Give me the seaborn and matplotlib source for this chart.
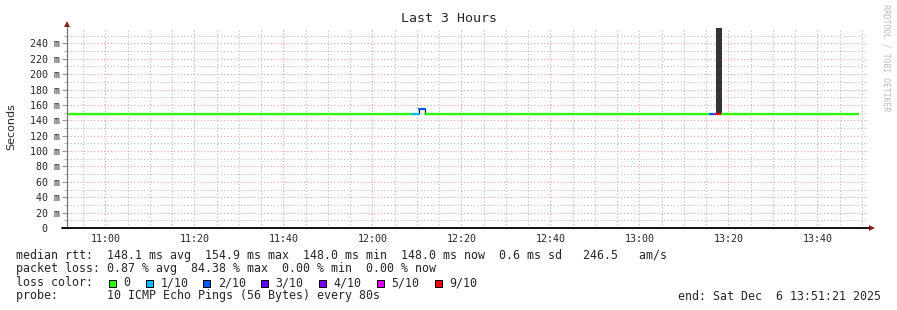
import matplotlib
matplotlib.use("Agg")
import matplotlib.pyplot as plt
import matplotlib.dates as mdates
from matplotlib.patches import Rectangle
import numpy as np
import pandas as pd
import seaborn as sns

# ---------------- data ----------------
day = "2025-12-06 "
window_start = "10:51:21"
window_end = "13:51:21"

seg_start = ["10:51:21", "12:08:59", "12:10:33", "12:11:54", "13:15:51", "13:17:10", "13:18:31"]
seg_end = ["12:08:59", "12:10:33", "12:11:54", "13:15:51", "13:17:10", "13:18:31", "13:49:06"]
seg_rtt_ms = [148.0, 148.0, 154.9, 148.0, 148.0, 148.0, 148.0]
seg_loss = ["0", "1/10", "2/10", "0", "2/10", "9/10", "0"]

smoke_start = ["13:17:10"]
smoke_end = ["13:18:31"]
smoke_low_ms = [148.0]
smoke_high_ms = [300.0]

loss_labels = ["0", "1/10", "2/10", "3/10", "4/10", "5/10", "9/10"]
loss_colors = ["#26ff00", "#00b8ff", "#0059ff", "#5e00ff", "#7e00ff", "#dd00ff", "#ff0000"]

y_ticks = [0, 20, 40, 60, 80, 100, 120, 140, 160, 180, 200, 220, 240]
y_tick_labels = ["0  ", "20 m", "40 m", "60 m", "80 m", "100 m", "120 m", "140 m",
                 "160 m", "180 m", "200 m", "220 m", "240 m"]

title = "Last 3 Hours"
y_label = "Seconds"
row_median = "median rtt:  148.1 ms avg  154.9 ms max  148.0 ms min  148.0 ms now  0.6 ms sd   246.5   am/s"
row_loss = "packet loss: 0.87 % avg  84.38 % max  0.00 % min  0.00 % now"
row_color_head = "loss color:"
row_probe = "probe:       10 ICMP Echo Pings (56 Bytes) every 80s"
row_end = "end: Sat Dec  6 13:51:21 2025"
watermark = "RRDTOOL / TOBI OETIKER"

# ---------------- build table ----------------
color_of = dict(zip(loss_labels, loss_colors))
rows = []
for i, (s, e, v, l) in enumerate(zip(seg_start, seg_end, seg_rtt_ms, seg_loss)):
    rows.append({"time": pd.Timestamp(day + s), "rtt": v, "seg": i})
    rows.append({"time": pd.Timestamp(day + e), "rtt": v, "seg": i})
df = pd.DataFrame(rows)
palette = {i: color_of[l] for i, l in enumerate(seg_loss)}

# step outline (median path) for vertical connectors
step_t = [pd.Timestamp(day + s) for s in seg_start] + [pd.Timestamp(day + seg_end[-1])]
step_v = list(seg_rtt_ms) + [seg_rtt_ms[-1]]

# ---------------- figure ----------------
sns.set_style("white")
plt.rcParams["font.family"] = ["DejaVu Sans Mono", "DejaVu Sans"]

W, H = 897, 310
fig = plt.figure(figsize=(W / 100, H / 100), dpi=100)
fig.patch.set_facecolor("white")
ax = fig.add_axes([67 / W, 82 / H, 801 / W, 200 / H])
ax.set_facecolor("white")

x0 = pd.Timestamp(day + window_start)
x1 = pd.Timestamp(day + window_end)
ax.set_xlim(x0, x1)
ax.set_ylim(0, 260)

# grid
ax.set_axisbelow(True)
ax.xaxis.set_major_locator(mdates.MinuteLocator(byminute=[0, 20, 40]))
ax.xaxis.set_minor_locator(mdates.MinuteLocator(byminute=list(range(0, 60, 5))))
ax.xaxis.set_major_formatter(mdates.DateFormatter("%H:%M"))
ax.set_yticks(y_ticks)
ax.set_yticklabels(y_tick_labels)
ax.set_yticks(np.arange(10, 260, 20), minor=True)
dot = (0, (1, 2))
ax.grid(True, which="major", color="#eea0a0", linestyle=dot, linewidth=0.8)
ax.grid(True, which="minor", color="#bdbdbd", linestyle=dot, linewidth=0.8)

# smoke
for s, e, lo, hi in zip(smoke_start, smoke_end, smoke_low_ms, smoke_high_ms):
    ax.fill_between([pd.Timestamp(day + s), pd.Timestamp(day + e)], [lo, lo], [hi, hi],
                    color="#333333", linewidth=0, zorder=2)

# median line
ax.plot(step_t, step_v, drawstyle="steps-post", color="#000000", linewidth=0.8, zorder=3)
sns.lineplot(data=df, x="time", y="rtt", hue="seg", palette=palette, estimator=None,
             sort=False, legend=False, linewidth=1.6, ax=ax, zorder=4)

ax.set_xlabel("")
ax.set_ylabel("")
for sp in ax.spines.values():
    sp.set_visible(False)

# axis lines with arrows
ax.plot([0, 0], [0, 1.02], transform=ax.transAxes, color="#777777", linewidth=0.9,
        clip_on=False, zorder=5)
ax.plot([-5 / 801, 1.004], [0, 0], transform=ax.transAxes, color="#000000", linewidth=1.3,
        clip_on=False, zorder=5)
ax.plot([0], [1.022], transform=ax.transAxes, marker="^", markersize=4.2, color="#8b2020",
        clip_on=False, zorder=6, markeredgewidth=0)
ax.plot([1.005], [0], transform=ax.transAxes, marker=">", markersize=4.2, color="#8b2020",
        clip_on=False, zorder=6, markeredgewidth=0)

ax.tick_params(axis="y", which="major", length=3.6, width=0.8, color="#999999", pad=1.2,
               labelsize=7.2, left=True)
ax.tick_params(axis="y", which="minor", length=2.2, width=0.8, color="#bbbbbb", left=True)
ax.tick_params(axis="x", which="both", length=0, pad=4.5, labelsize=7.2)
for lab in ax.get_xticklabels() + ax.get_yticklabels():
    lab.set_fontfamily("DejaVu Sans Mono")

# texts
fig.text(0.5, 1 - 19 / H, title, ha="center", va="center", fontsize=9.5,
         family="DejaVu Sans Mono")
fig.text(11 / W, 1 - 127 / H, y_label, rotation=90, ha="center", va="center", fontsize=8,
         family="DejaVu Sans")
fig.text(886 / W, 1 - 4 / H, watermark, rotation=270, ha="center", va="top", fontsize=5.9,
         color="#bdbdbd", family="DejaVu Sans Mono")

lx = 16 / W
fs = 8.35
fig.text(lx, 1 - 255 / H, row_median, ha="left", va="center", fontsize=fs, family="DejaVu Sans Mono")
fig.text(lx, 1 - 268.5 / H, row_loss, ha="left", va="center", fontsize=fs, family="DejaVu Sans Mono")
fig.text(lx, 1 - 282.5 / H, row_color_head, ha="left", va="center", fontsize=fs, family="DejaVu Sans Mono")
fig.text(lx, 1 - 296 / H, row_probe, ha="left", va="center", fontsize=fs, family="DejaVu Sans Mono")
fig.text(881 / W, 1 - 296 / H, row_end, ha="right", va="center", fontsize=fs, family="DejaVu Sans Mono")

box_x = [108.5, 145.7, 203.3, 261.0, 318.7, 376.7, 435.0]
for bx, lab, col in zip(box_x, loss_labels, loss_colors):
    fig.patches.append(Rectangle((bx / W, 1 - 286.5 / H), 7 / W, 7 / H, transform=fig.transFigure,
                                 facecolor=col, edgecolor="#000000", linewidth=0.7))
    fig.text((bx + 14.5) / W, 1 - 282.5 / H, lab, ha="left", va="center", fontsize=fs,
             family="DejaVu Sans Mono")

fig.savefig("out.png", dpi=100, facecolor="white")
